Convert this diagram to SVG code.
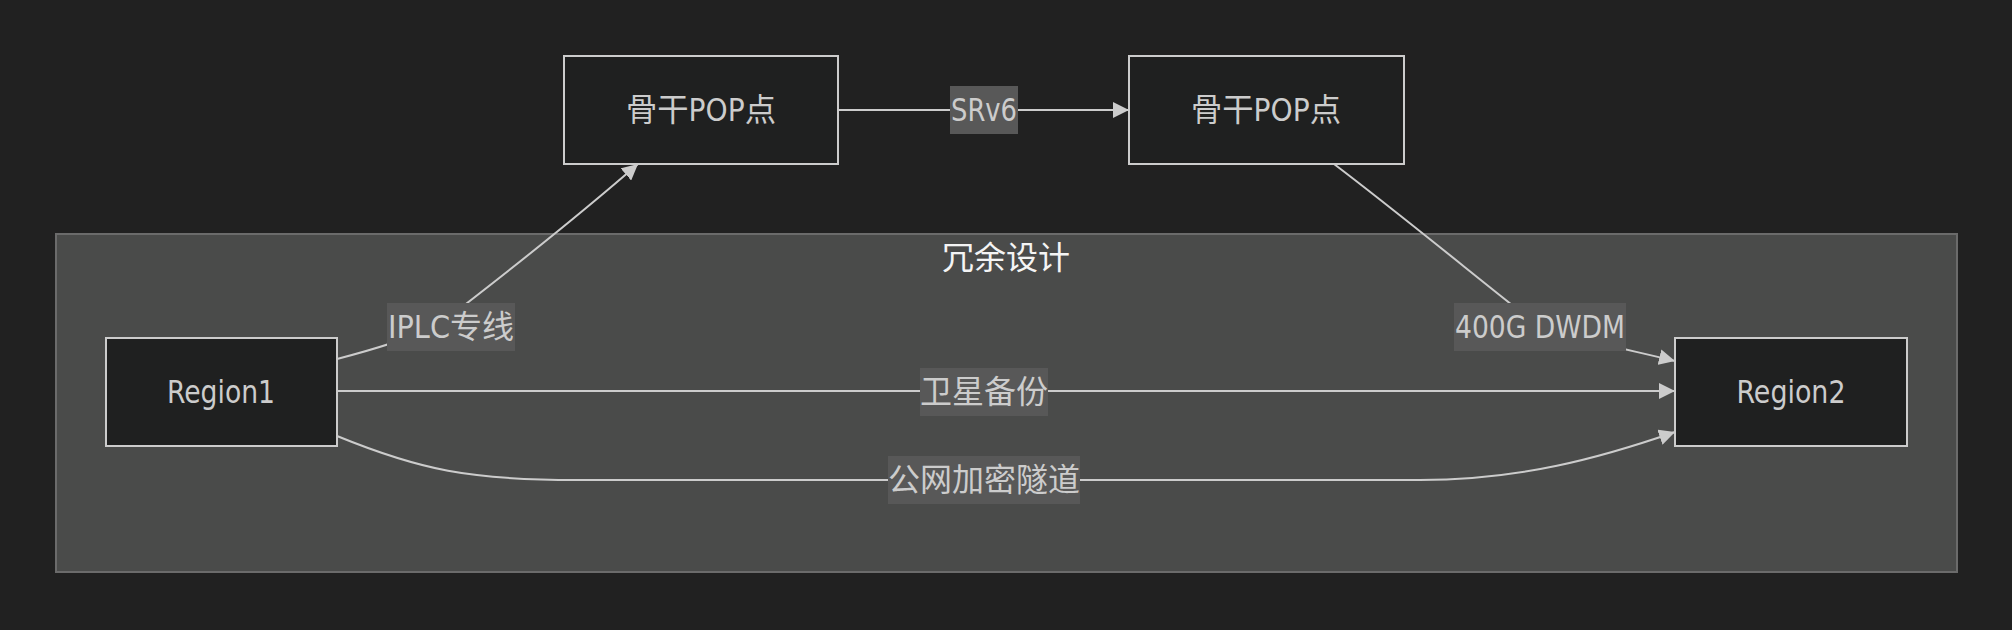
<svg xmlns="http://www.w3.org/2000/svg" width="2012" height="630" viewBox="0 0 2012 630">
<style>
.bg{fill:#212121}
.cluster{fill:#4a4b4a;stroke:#6b6b6b;stroke-width:2}
.node rect{fill:#1f2020;stroke:#cccccc;stroke-width:2}
.t{font-family:"DejaVu Sans Condensed","DejaVu Sans","Noto Sans CJK SC",sans-serif;font-stretch:condensed;font-size:32px;fill:#cccccc;text-anchor:middle;dominant-baseline:central}
.title{fill:#f4f4f4}
.edge{fill:none;stroke:#cccccc;stroke-width:2;marker-end:url(#arrow)}
.lbg{fill:#585858}
</style>
<defs>
<marker id="arrow" markerUnits="userSpaceOnUse" markerWidth="18" markerHeight="16" refX="16" refY="8" orient="auto">
<path d="M0,0 L16,8 L0,16 z" fill="#cccccc"/>
</marker>
</defs>
<rect class="bg" x="0" y="0" width="2012" height="630"/>
<g id="cluster-redundancy">
<rect class="cluster" x="56" y="234" width="1901" height="338"/>
<text class="t title" x="1006" y="258">冗余设计</text>
</g>
<g id="connectors">
<path class="edge" d="M838,110 L1129,110"/>
<path class="edge" d="M337,359 C360,353 400,342 436,327 C500,278 585,210 638,164"/>
<path class="edge" d="M1334,164 C1400,214 1480,280 1540,327 C1580,340 1630,350 1675,361"/>
<path class="edge" d="M337,391 L1675,391"/>
<path class="edge" d="M337,436 C420,470 470,480 577,480 L1420,480 C1520,480 1600,458 1675,432"/>
</g>
<g id="edge-labels">
<g id="label-srv6"><rect class="lbg" x="950" y="86" width="68" height="48"/><text class="t" x="984" y="110" textLength="66" lengthAdjust="spacingAndGlyphs">SRv6</text></g>
<g id="label-iplc"><rect class="lbg" x="387" y="303" width="128" height="48"/><text class="t" x="451" y="327" textLength="126" lengthAdjust="spacingAndGlyphs">IPLC专线</text></g>
<g id="label-dwdm"><rect class="lbg" x="1454" y="303" width="172" height="48"/><text class="t" x="1540" y="327" textLength="170" lengthAdjust="spacingAndGlyphs">400G DWDM</text></g>
<g id="label-sat"><rect class="lbg" x="920" y="368" width="128" height="48"/><text class="t" x="984" y="392">卫星备份</text></g>
<g id="label-tunnel"><rect class="lbg" x="888" y="456" width="192" height="48"/><text class="t" x="984" y="480">公网加密隧道</text></g>
</g>
<g id="pop1" class="node"><rect x="564" y="56" width="274" height="108"/><text class="t" x="701" y="110" textLength="150" lengthAdjust="spacingAndGlyphs">骨干POP点</text></g>
<g id="pop2" class="node"><rect x="1129" y="56" width="275" height="108"/><text class="t" x="1266" y="110" textLength="150" lengthAdjust="spacingAndGlyphs">骨干POP点</text></g>
<g id="region1" class="node"><rect x="106" y="338" width="231" height="108"/><text class="t" x="221" y="392" textLength="108" lengthAdjust="spacingAndGlyphs">Region1</text></g>
<g id="region2" class="node"><rect x="1675" y="338" width="232" height="108"/><text class="t" x="1791" y="392" textLength="109" lengthAdjust="spacingAndGlyphs">Region2</text></g>
</svg>
